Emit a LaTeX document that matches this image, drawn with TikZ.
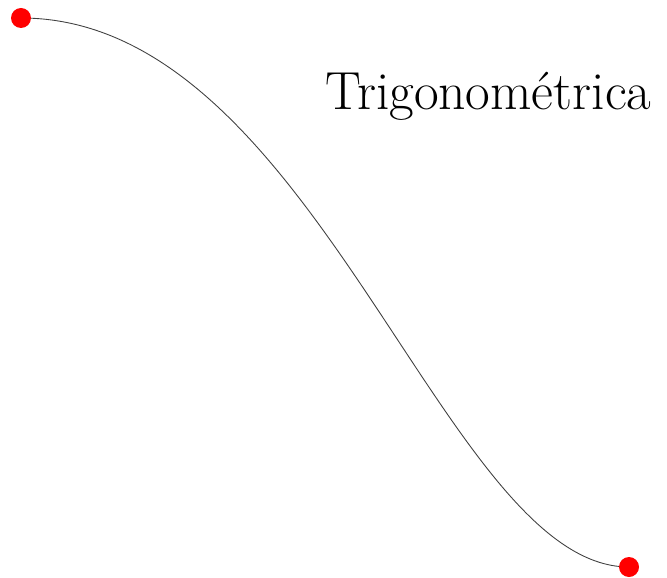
\documentclass[tikz,border=0pt]{standalone}
\usepackage{fontspec}
\usetikzlibrary{calc}
\definecolor{DotClr}{rgb}{1,0,0}
\definecolor{CurveClr}{rgb}{0.25,0.25,0.25}

\begin{document}
\begin{tikzpicture}[dot/.style={circle,fill=DotClr,inner sep=0pt,minimum size=0.4cm}]
\useasboundingbox (0,0) rectangle (13.34,11.54);

\coordinate (P0) at (0.42,11.18);
\coordinate (P1) at (12.58,0.20);

% the curve, flat at both ends
\draw[line width=0.5pt,color=CurveClr] (P0) .. controls ($(P0)+(5.9,0)$) and ($(P1)-(3.7,0)$) .. (P1);

\node[dot] (Start) at (P0) {};
\node[dot] (End) at (P1) {};

\node[anchor=base west,inner sep=0pt] (Title) at (6.5,9.34)
  {\fontsize{30.5}{36}\selectfont Trigonométrica};

\end{tikzpicture}
\end{document}
